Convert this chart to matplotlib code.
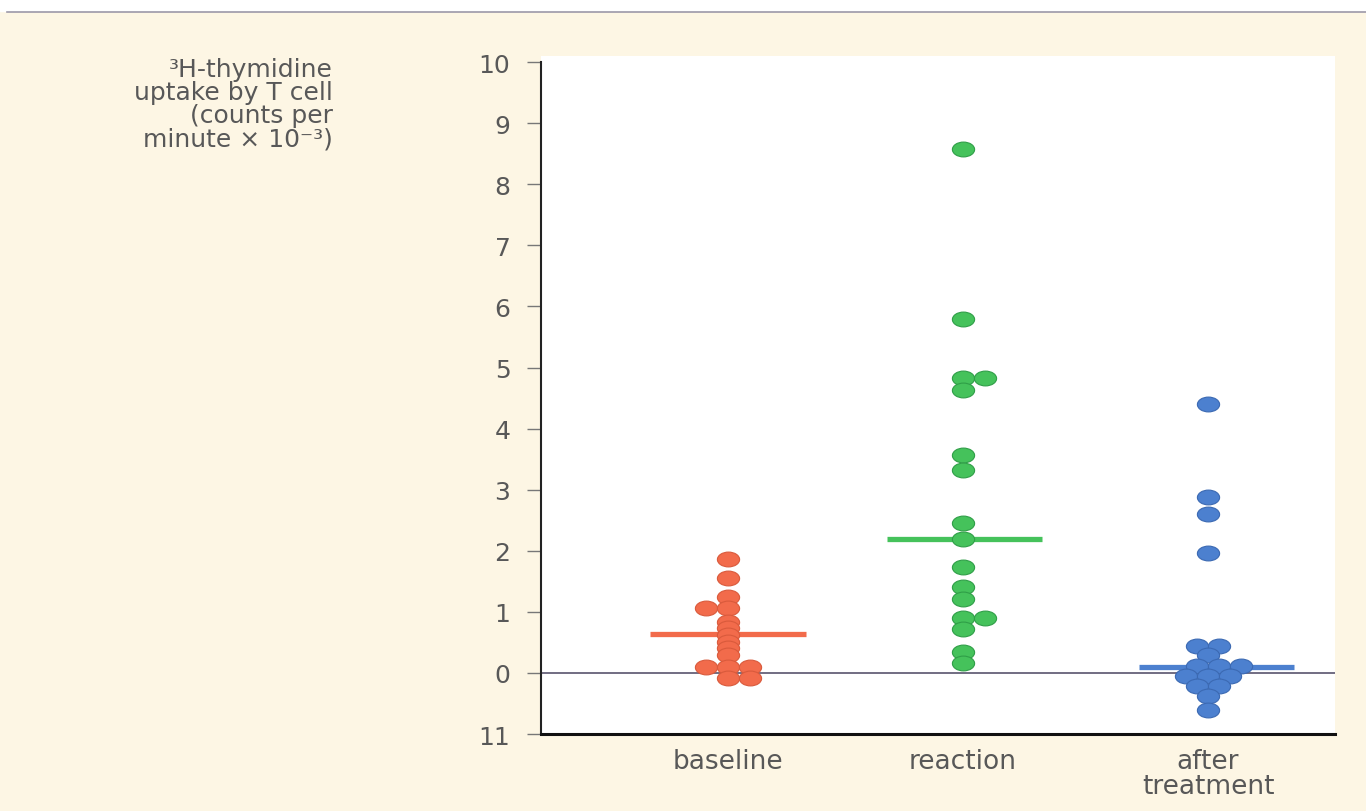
import numpy as np
import matplotlib
matplotlib.use("Agg")
import matplotlib.pyplot as plt
from matplotlib.path import Path
from matplotlib.markers import MarkerStyle
from matplotlib.transforms import Affine2D
from matplotlib.patches import Rectangle
from matplotlib.lines import Line2D

plt.rcParams['font.family'] = ['DejaVu Sans']

# Data
categories = ['baseline', 'reaction', 'after\ntreatment']

baseline_vals = [1.87, 1.55, 1.25, 1.06, 1.06, 0.84, 0.74, 0.62, 0.51, 0.41, 0.30,
                 0.10, 0.10, 0.10, -0.08, -0.08]
reaction_vals = [8.57, 5.79, 4.83, 4.83, 4.64, 3.57, 3.33, 2.46, 2.20, 1.74, 1.41,
                 1.21, 0.90, 0.90, 0.72, 0.35, 0.16]
after_vals = [4.41, 2.88, 2.61, 1.97, 0.44, 0.44, 0.29, 0.12, 0.12, 0.12,
              -0.05, -0.05, -0.05, -0.21, -0.21, -0.38, -0.60]

# mean bars
group_means = [0.64, 2.20, 0.10]

ytick_vals = [10, 9, 8, 7, 6, 5, 4, 3, 2, 1, 0, -1]
ytick_labels = ['10', '9', '8', '7', '6', '5', '4', '3', '2', '1', '0', '11']

# swarm slots (in half-dot steps) so the dots sit side by side like the figure
baseline_slots = [0, 0, 0, -2, 0, 0, 0, 0, 0, 0, 0, -2, 0, 2, 0, 2]
reaction_slots = [0, 0, 0, 2, 0, 0, 0, 0, 0, 0, 0, 0, 0, 2, 0, 0, 0]
after_slots = [0, 0, 0, 0, -1, 1, 0, -1, 1, 3, -2, 0, 2, -1, 1, 0, 0]

colors = ['#f26b4b', '#45c25b', '#4c80cf']
edges = ['#d95a3c', '#2f9e47', '#3b69b2']

positions = [1.0, 2.0, 3.043]
bar_shift = [0.0, 0.005, 0.035]
half_step = 0.047
bar_half = 0.33

bg = '#fdf6e4'
txt = '#585858'

fig = plt.figure(figsize=(13.66, 8.12), dpi=100, facecolor=bg)
ax = fig.add_axes([0.396, 0.0948, 0.5813, 0.835])
ax.set_facecolor('white')

# elliptical dots (the scan is stretched horizontally)
ell = Path.unit_circle().transformed(Affine2D().scale(1.5, 1.0))
dot = MarkerStyle(ell)

ax.axhline(0, color='#4a4560', lw=1.1, zorder=1.5)

groups = [(baseline_vals, baseline_slots), (reaction_vals, reaction_slots),
          (after_vals, after_slots)]
for i, (vals, slots) in enumerate(groups):
    xs = positions[i] + np.array(slots) * half_step
    c = positions[i] + bar_shift[i]
    ax.plot([c - bar_half, c + bar_half], [group_means[i]] * 2,
            color=colors[i], lw=3.8, solid_capstyle='butt', zorder=2)
    ax.plot(xs, vals, linestyle='none', marker=dot, markersize=16,
            markerfacecolor=colors[i], markeredgecolor=edges[i],
            markeredgewidth=0.8, zorder=3)

ax.set_xlim(0.204, 3.583)
ax.set_ylim(-1, 10.1)

for s in ['top', 'right']:
    ax.spines[s].set_visible(False)
ax.spines['left'].set_bounds(-1, 10)
ax.spines['left'].set_linewidth(1.5)
ax.spines['left'].set_color('#222222')
ax.spines['bottom'].set_linewidth(2.2)
ax.spines['bottom'].set_color('#111111')

ax.set_yticks(ytick_vals)
ax.set_yticklabels(ytick_labels)
ax.tick_params(axis='y', length=10, width=1, color='#777777', pad=12,
               labelsize=18, labelcolor=txt)
ax.set_xticks(positions)
ax.set_xticklabels(categories, linespacing=0.95)
ax.tick_params(axis='x', length=0, pad=10, labelsize=19, labelcolor=txt)

# y label block, top left, right aligned
ylab_lines = ['\u00b3H-thymidine', 'uptake by T cell', '(counts per',
              'minute \u00d7 10\u207b\u00b3)']
for k, line in enumerate(ylab_lines):
    fig.text(333 / 1366, 1 - (70 + 23.2 * k) / 812, line, ha='right',
             va='center', fontsize=18, color=txt)

# white strip and rule at the very top of the scan
fig.add_artist(Rectangle((0, 1 - 12 / 812), 1, 12 / 812,
                         transform=fig.transFigure, color='white', zorder=0))
fig.add_artist(Line2D([0.005, 1], [1 - 13 / 812] * 2, transform=fig.transFigure,
                      color='#9c98a8', lw=1.2))

fig.savefig('out.png', dpi=100, facecolor=bg)
